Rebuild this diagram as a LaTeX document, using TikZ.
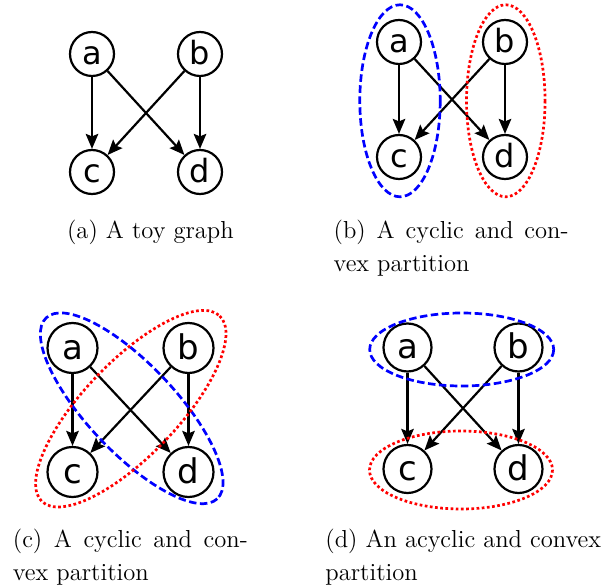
\documentclass[tikz,border=0pt]{standalone}
\usepackage{fontspec}
\newfontfamily\vfont{DejaVu Sans}
\usetikzlibrary{arrows.meta}
\tikzset{
  vtx/.style={circle, draw, line width=2.2pt, inner sep=0pt, minimum size=44pt,
    font=\vfont\fontsize{32}{38}\selectfont, text height=21pt, text depth=0pt},
  vtxc/.style={vtx, minimum size=50pt, font=\vfont\fontsize{34}{40}\selectfont, text height=22.5pt},
  vtxd/.style={vtx, minimum size=48pt, font=\vfont\fontsize{34}{40}\selectfont, text height=22.5pt},
  arr/.style={-{Stealth[length=15pt,width=12.5pt,inset=2.5pt]}, line width=2.2pt},
  bset/.style={draw=blue, line width=2.7pt, dash pattern=on 7.5pt off 3.5pt},
  rset/.style={draw=red, line width=2.7pt, dash pattern=on 2.7pt off 2.5pt},
  captext/.style={anchor=base west, scale=2.05, inner sep=0pt, font=\fontsize{12}{14}\selectfont}
}
\begin{document}
\begin{tikzpicture}[x=1pt,y=-1pt]
\useasboundingbox (0,0) rectangle (603,585);
% (a)
\node[vtx] (a1) at (92,54) {a};
\node[vtx] (b1) at (200,54) {b};
\node[vtx] (c1) at (92,172) {c};
\node[vtx] (d1) at (200,172) {d};
\draw[arr] (a1) -- (c1);
\draw[arr] (a1) -- (d1);
\draw[arr] (b1) -- (c1);
\draw[arr] (b1) -- (d1);
\node[captext] (capa) at (66.7,238.3) {(a) A toy graph};
% (b)
\node[vtx] (a2) at (399,42) {a};
\node[vtx] (b2) at (505,42) {b};
\node[vtx] (c2) at (399,157) {c};
\node[vtx] (d2) at (505,157) {d};
\draw[arr] (a2) -- (c2);
\draw[arr] (a2) -- (d2);
\draw[arr] (b2) -- (c2);
\draw[arr] (b2) -- (d2);
\draw[bset] (400,100.8) ellipse [x radius=40.2, y radius=96];
\draw[rset] (505.8,100.8) ellipse [x radius=39.3, y radius=96];
\node[captext] (capb1) at (333.3,238.3) {\hbox to 114.6pt{(b) A cyclic and con-}};
\node[captext] (capb2) at (333.3,271.7) {vex partition};
% (c)
\node[vtxc] (a3) at (72.5,348) {a};
\node[vtxc] (b3) at (188.5,348) {b};
\node[vtxc] (c3) at (72.5,472) {c};
\node[vtxc] (d3) at (188.5,472) {d};
\draw[arr] (a3) -- (c3);
\draw[arr] (a3) -- (d3);
\draw[arr] (b3) -- (c3);
\draw[arr] (b3) -- (d3);
\draw[bset, rotate around={-46.6:(131.7,408.3)}] (131.7,408.3) ellipse [x radius=124.5, y radius=44];
\draw[rset, rotate around={46.2:(130.8,408.7)}] (130.8,408.7) ellipse [x radius=128.5, y radius=47];
\node[captext] (capc1) at (12.5,547.7) {\hbox to 114.6pt{(c) A cyclic and con-}};
\node[captext] (capc2) at (12.5,580) {vex partition};
% (d)
\node[vtxd] (a4) at (407.5,347.5) {a};
\node[vtxd] (b4) at (518.5,347.5) {b};
\node[vtxd] (c4) at (407.5,469) {c};
\node[vtxd] (d4) at (518.5,469) {d};
\draw[arr] (a4) -- (c4);
\draw[arr] (a4) -- (d4);
\draw[arr] (b4) -- (c4);
\draw[arr] (b4) -- (d4);
\draw[bset] (461.7,349.5) ellipse [x radius=92, y radius=36.5];
\draw[rset] (461,470) ellipse [x radius=91.5, y radius=39];
\node[captext] (capd1) at (325,547.7) {(d) An acyclic and convex};
\node[captext] (capd2) at (325,580) {partition};
\end{tikzpicture}
\end{document}
